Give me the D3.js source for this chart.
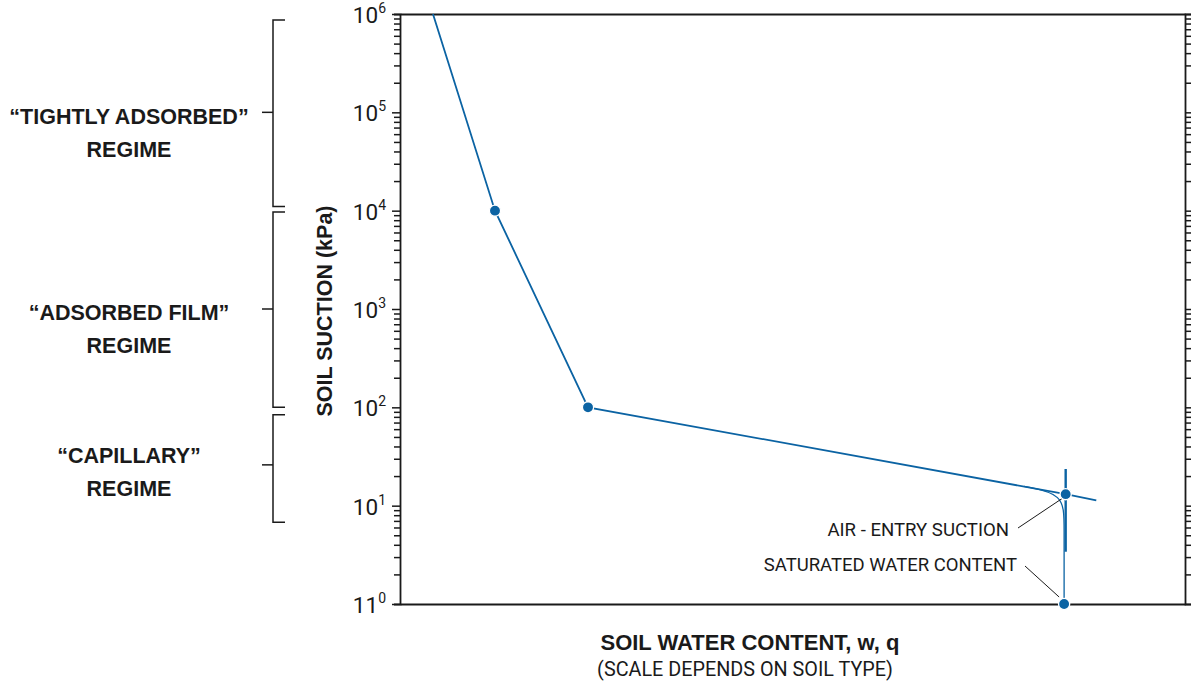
<!DOCTYPE html>
<html>
<head>
<meta charset="utf-8">
<script src="https://cdn.jsdelivr.net/npm/d3@7"></script>
<style>
  html, body { margin: 0; padding: 0; background: #fff; }
  svg { display: block; }
</style>
</head>
<body>
<svg id="chart" width="1191" height="690"></svg>
<script>
// ---------------- DATA ----------------
// Soil-water characteristic curve (x: water content, arbitrary linear units 0-100; y: suction kPa)
const curvePoints = [[4.2, 1e6], [12.1, 1e4], [23.95, 100], [84.8, 13.1]];
const tangentExtension = [[84.8, 13.1], [88.7, 11.3]];
const verticalTangent = [[84.8, 23.6], [84.8, 3.4]];
const kneeCurve = [[79.5, 15.7], [84.6, 13.2], [84.6, 6.5], [84.6, 1]];
const markedPoints = [[12.1, 1e4], [23.95, 100], [84.8, 13.1], [84.6, 1]];

// y tick labels (base + superscript exponent), as printed
const majorTicks = [1, 10, 100, 1000, 1e4, 1e5, 1e6];
const tickBase = ["11", "10", "10", "10", "10", "10", "10"];
const tickExp  = ["0", "1", "2", "3", "4", "5", "6"];

// regimes (bracket spans in kPa)
const regimeLabels = [["\u201CTIGHTLY ADSORBED\u201D", "REGIME"], ["\u201CADSORBED FILM\u201D", "REGIME"], ["\u201CCAPILLARY\u201D", "REGIME"]];
const regimeTop    = [8.7e5, 9.7e3, 84];
const regimeBottom = [1.1e4, 100, 6.8];
const regimeMid    = [1e5, 1e3, 26];

const annotations = ["AIR - ENTRY SUCTION", "SATURATED WATER CONTENT"];
const xTitle = "SOIL WATER CONTENT, w, q";
const xSubtitle = "(SCALE DEPENDS ON SOIL TYPE)";
const yTitle = "SOIL SUCTION (kPa)";

// ---------------- LAYOUT ----------------
const svg = d3.select("#chart");
const L = 400, R = 1185, T = 14, B = 604;
const x = d3.scaleLinear().domain([0, 100]).range([L, R]);
const y = d3.scaleLog().domain([1, 1e6]).range([B, T]);
const blue = "#0b63a3";
const ink = "#1a1a1a";
const regFont = "Roboto, 'Liberation Sans', sans-serif";
const boldFont = "'Liberation Sans', Arial, sans-serif";

// all ticks (1..9 per decade)
const allTicks = [];
for (let e = 0; e < 6; e++) for (let k = 1; k <= 9; k++) allTicks.push(k * Math.pow(10, e));
allTicks.push(1e6);
const isMajor = v => Math.abs(Math.log10(v) - Math.round(Math.log10(v))) < 1e-9;

// Left axis
const gL = svg.append("g").attr("transform", `translate(${L},0)`)
  .call(d3.axisLeft(y).tickValues(allTicks).tickFormat("").tickSizeOuter(0).tickSize(6));
gL.selectAll(".tick line").attr("x2", d => isMajor(d) ? -8 : -6);
// Right axis
const gR = svg.append("g").attr("transform", `translate(${R},0)`)
  .call(d3.axisRight(y).tickValues(allTicks).tickFormat("").tickSizeOuter(0).tickSize(6));
// Bottom axis (no ticks)
const gB = svg.append("g").attr("transform", `translate(0,${B})`)
  .call(d3.axisBottom(x).tickValues([]).tickSizeOuter(0));
// Top border
const gT = svg.append("g").attr("transform", `translate(0,${T})`)
  .call(d3.axisTop(x).tickValues([]).tickSizeOuter(0));
[gL, gR, gB, gT].forEach(g => {
  g.select(".domain").attr("stroke", ink).attr("stroke-width", 1.8);
  g.selectAll(".tick line").attr("stroke", ink).attr("stroke-width", 1.5);
});

// Y tick labels
const tl = svg.append("g").selectAll("text").data(majorTicks).join("text")
  .attr("x", 386).attr("y", d => y(d) + 9)
  .attr("text-anchor", "end")
  .attr("font-family", regFont).attr("font-size", 22.5).attr("fill", ink);
tl.append("tspan").text((d, i) => tickBase[i]);
tl.append("tspan").attr("font-size", 14).attr("dy", -10).text((d, i) => tickExp[i]);

// Axis titles
svg.append("text").attr("transform", `translate(332,${311}) rotate(-90)`)
  .attr("text-anchor", "middle").attr("font-family", boldFont).attr("font-weight", "bold")
  .attr("font-size", 21.5).attr("fill", ink).text(yTitle);
svg.append("text").attr("x", 750).attr("y", 650).attr("text-anchor", "middle")
  .attr("font-family", boldFont).attr("font-weight", "bold").attr("font-size", 22)
  .attr("fill", ink).text(xTitle);
svg.append("text").attr("x", 745).attr("y", 676).attr("text-anchor", "middle")
  .attr("font-family", regFont).attr("font-size", 19.8).attr("fill", ink).text(xSubtitle);

// Regime brackets
const bx = 273;
const br = svg.append("g").attr("stroke", ink).attr("stroke-width", 1.5).attr("fill", "none");
regimeTop.forEach((tp, i) => {
  const y0 = y(tp), y1 = y(regimeBottom[i]), ym = y(regimeMid[i]);
  br.append("path").attr("d", `M${bx + 12},${y0}H${bx}V${y1}H${bx + 12}`);
  br.append("path").attr("d", `M${bx - 11},${ym}H${bx}`);
});
const labelBase = [124, 320, 463];
regimeLabels.forEach((lines, i) => {
  lines.forEach((s, j) => {
    svg.append("text").attr("x", 129).attr("y", labelBase[i] + j * 33)
      .attr("text-anchor", "middle").attr("font-family", boldFont).attr("font-weight", "bold")
      .attr("font-size", 21.5).attr("fill", ink).text(s);
  });
});

// Curves
const line = d3.line().x(d => x(d[0])).y(d => y(d[1]));
svg.append("path").datum(kneeCurve).attr("d", line.curve(d3.curveBasis))
  .attr("fill", "none").attr("stroke", blue).attr("stroke-width", 1.3);
line.curve(d3.curveLinear);
svg.append("path").datum(curvePoints).attr("d", line)
  .attr("fill", "none").attr("stroke", blue).attr("stroke-width", 1.8);
svg.append("path").datum(tangentExtension).attr("d", line)
  .attr("fill", "none").attr("stroke", blue).attr("stroke-width", 1.8);
svg.append("path").datum(verticalTangent).attr("d", line)
  .attr("fill", "none").attr("stroke", blue).attr("stroke-width", 2.4);

// Annotation leaders + text
const ae = markedPoints[2], sw = markedPoints[3];
svg.append("line").attr("x1", 1018).attr("y1", 528).attr("x2", x(ae[0]) - 3).attr("y2", y(ae[1]) + 4)
  .attr("stroke", ink).attr("stroke-width", 1);
svg.append("line").attr("x1", 1025).attr("y1", 566).attr("x2", x(sw[0]) - 5).attr("y2", y(sw[1]) - 7)
  .attr("stroke", ink).attr("stroke-width", 1);
svg.append("text").attr("x", 1009).attr("y", 536).attr("text-anchor", "end")
  .attr("font-family", regFont).attr("font-size", 18.6).attr("fill", ink).text(annotations[0]);
svg.append("text").attr("x", 1017).attr("y", 571).attr("text-anchor", "end")
  .attr("font-family", regFont).attr("font-size", 18.5).attr("fill", ink).text(annotations[1]);

// Points
svg.append("g").selectAll("circle").data(markedPoints).join("circle")
  .attr("cx", d => x(d[0])).attr("cy", d => y(d[1])).attr("r", 5.6)
  .attr("fill", blue).attr("stroke", "#fff").attr("stroke-width", 1.3);
</script>
</body>
</html>
